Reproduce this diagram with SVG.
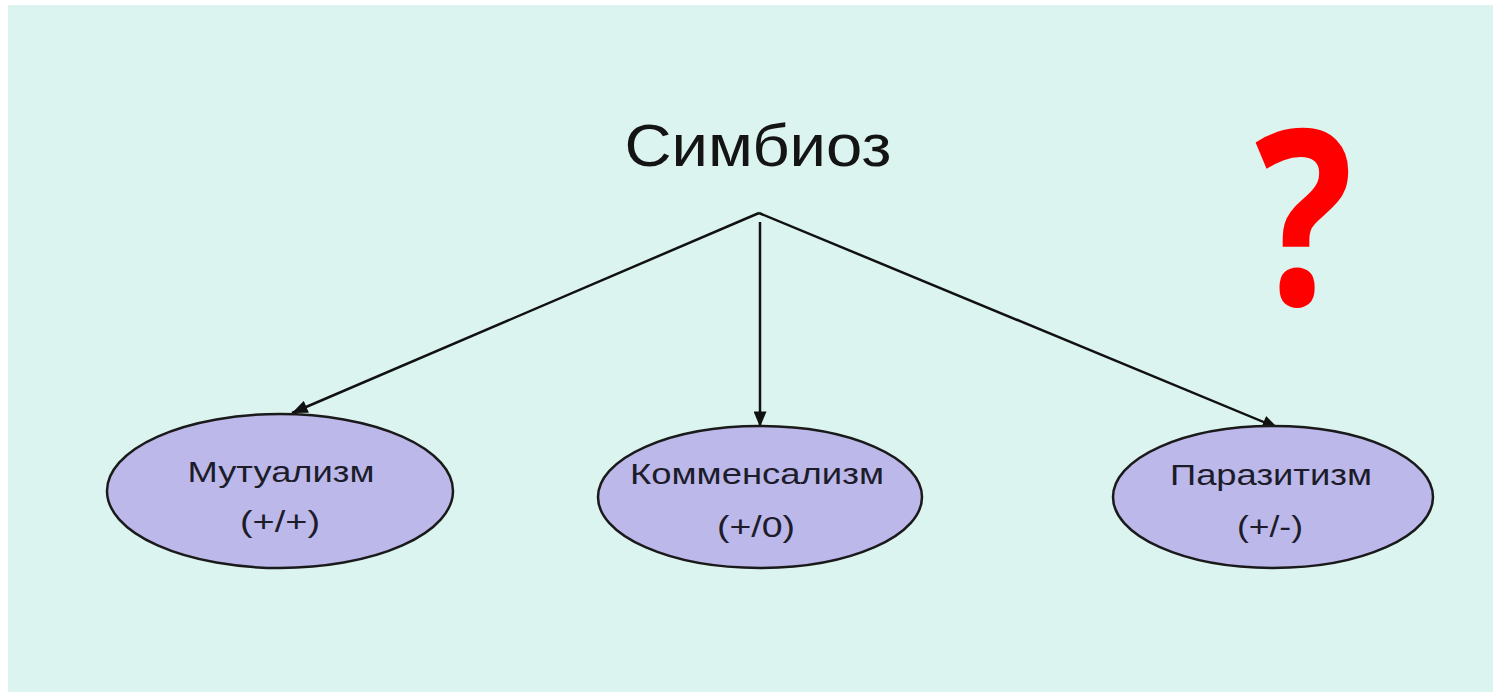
<svg xmlns="http://www.w3.org/2000/svg" width="1495" height="693" viewBox="0 0 1495 693">
<defs>
<style>
.node ellipse{fill:#bdb8ea;stroke:#1a1a1a;stroke-width:2.5}
.lbl{font-family:"Liberation Sans",Arial,sans-serif;font-size:29px;fill:#1c1c2a;text-anchor:middle}
.edge{stroke:#111;stroke-width:2.5;fill:none}
</style>
<marker id="ah2" viewBox="0 0 12 10" refX="12" refY="5" markerWidth="16" markerHeight="13" markerUnits="userSpaceOnUse" orient="auto"><path d="M0,0 L12,5 L0,10 z" fill="#111"/></marker>
</defs>
<rect x="0" y="0" width="1495" height="693" fill="#ffffff"/>
<rect x="8" y="5" width="1485" height="687" fill="#dcf4f0"/>
<g id="root">
<text x="758" y="166" font-family="'Liberation Sans',Arial,sans-serif" font-size="60" fill="#141414" text-anchor="middle" textLength="267" lengthAdjust="spacingAndGlyphs">Симбиоз</text>
</g>
<g id="connectors">
<line class="edge" x1="759" y1="213" x2="292" y2="413" marker-end="url(#ah2)"/>
<line class="edge" x1="760" y1="222" x2="760" y2="427" marker-end="url(#ah2)"/>
<line class="edge" x1="759" y1="213" x2="1278" y2="428" marker-end="url(#ah2)"/>
</g>
<g id="mutualism" class="node">
<ellipse cx="280" cy="491" rx="173" ry="77"/>
<text class="lbl" x="281" y="482" textLength="187" lengthAdjust="spacingAndGlyphs">Мутуализм</text>
<text class="lbl" x="280" y="532" textLength="80" lengthAdjust="spacingAndGlyphs">(+/+)</text>
</g>
<g id="commensalism" class="node">
<ellipse cx="760" cy="497" rx="162" ry="71"/>
<text class="lbl" x="757" y="484" textLength="254" lengthAdjust="spacingAndGlyphs">Комменсализм</text>
<text class="lbl" x="756" y="537" textLength="78" lengthAdjust="spacingAndGlyphs">(+/0)</text>
</g>
<g id="parasitism" class="node">
<ellipse cx="1273" cy="497" rx="160" ry="71"/>
<text class="lbl" x="1271" y="485" textLength="202" lengthAdjust="spacingAndGlyphs">Паразитизм</text>
<text class="lbl" x="1270" y="537" textLength="66" lengthAdjust="spacingAndGlyphs">(+/-)</text>
</g>
<g id="question">
<text transform="translate(1304,305) scale(0.84,1)" x="0" y="0" font-family="'Open Sans','Noto Sans',sans-serif" font-weight="bold" font-size="245" fill="#ff0000" text-anchor="middle">?</text>
</g>
</svg>
